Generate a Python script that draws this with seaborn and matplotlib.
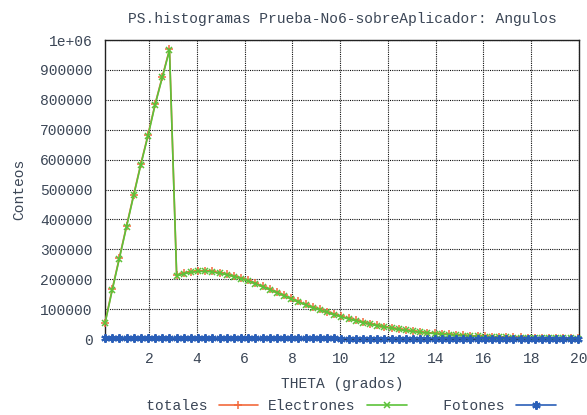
import numpy as np
import pandas as pd
import matplotlib
matplotlib.use("Agg")
import matplotlib.pyplot as plt
import seaborn as sns

# Bin centres of the angular histogram (degrees)
theta = [0.15, 0.45, 0.75, 1.05, 1.35, 1.65, 1.95, 2.25, 2.55, 2.85,
         3.15, 3.45, 3.75, 4.05, 4.35, 4.65, 4.95, 5.25, 5.55, 5.85,
         6.15, 6.45, 6.75, 7.05, 7.35, 7.65, 7.95, 8.25, 8.55, 8.85,
         9.15, 9.45, 9.75, 10.05, 10.35, 10.65, 10.95, 11.25, 11.55, 11.85,
         12.15, 12.45, 12.75, 13.05, 13.35, 13.65, 13.95, 14.25, 14.55, 14.85,
         15.15, 15.45, 15.75, 16.05, 16.35, 16.65, 16.95, 17.25, 17.55, 17.85,
         18.15, 18.45, 18.75, 19.05, 19.35, 19.65, 19.95]

# Counts per bin
electrones = [52000, 163000, 269000, 375000, 480000, 583000, 680000, 784000, 875000, 966000,
              211000, 218000, 223000, 226000, 226000, 224000, 220000, 215000, 209000, 202000,
              194000, 185000, 175000, 165000, 155000, 145000, 134000, 124000, 114000, 105000,
              97000, 89000, 81000, 74000, 67000, 61000, 55000, 49500, 44500, 40000,
              36000, 32000, 28500, 25500, 22500, 20000, 18000, 16000, 14000, 12500,
              11000, 9800, 8700, 7700, 6800, 6000, 5300, 4700, 4200, 3700,
              3300, 2900, 2600, 2300, 2000, 1800, 1600]

fotones = [2900, 2900, 2800, 2800, 2700, 2700, 2600, 2600, 2500, 2500,
           2400, 2400, 2400, 2300, 2300, 2300, 2200, 2200, 2200, 2100,
           2100, 2100, 2000, 2000, 2000, 1900, 1900, 1900, 1900, 1800,
           1800, 1800, 1800, 1700, 1700, 1700, 1700, 1600, 1600, 1600,
           1600, 1500, 1500, 1500, 1500, 1500, 1400, 1400, 1400, 1400,
           1400, 1300, 1300, 1300, 1300, 1300, 1300, 1200, 1200, 1200,
           1200, 1200, 1200, 1100, 1100, 1100, 1100]

totales = [e + f for e, f in zip(electrones, fotones)]

y_ticks = [0, 100000, 200000, 300000, 400000, 500000, 600000, 700000, 800000, 900000, 1000000]
y_tick_labels = ["0", "100000", "200000", "300000", "400000", "500000",
                 "600000", "700000", "800000", "900000", "1e+06"]
x_ticks = [2, 4, 6, 8, 10, 12, 14, 16, 18, 20]

df = pd.DataFrame({"theta": theta, "totales": totales,
                   "Electrones": electrones, "Fotones": fotones})

sns.set_theme(style="white")
plt.rcParams["font.family"] = ["Liberation Mono", "DejaVu Sans Mono"]
txt = "#3b4656"
plt.rcParams["text.color"] = txt

fig = plt.figure(figsize=(5.87, 4.15), dpi=100)
ax = fig.add_axes([0.1789, 0.1831, 0.9864 - 0.1789, 0.9036 - 0.1831])

styles = [
    ("totales", "#f26a3c", "+", 5.5, 1.1, 3),
    ("Electrones", "#5cc23a", "x", 4.5, 1.1, 4),
    ("Fotones", "#2a5fb8", (6, 2, 0), 6, 1.5, 5),
]
for col, color, mk, ms, mew, z in styles:
    sns.lineplot(data=df, x="theta", y=col, ax=ax, color=color, marker=mk,
                 markersize=ms, markeredgewidth=mew, markeredgecolor=color,
                 linewidth=1.2, label=col, clip_on=False, zorder=z)

ax.set_xlim(0.15, 20)
ax.set_ylim(0, 1000000)
ax.set_xticks(x_ticks)
ax.set_xticklabels([str(t) for t in x_ticks])
ax.set_yticks(y_ticks)
ax.set_yticklabels(y_tick_labels)
ax.tick_params(axis="both", labelsize=10.5, colors=txt, length=0)
ax.tick_params(axis="x", pad=9)
ax.tick_params(axis="y", pad=9)

ax.grid(True, color="#111111", linestyle=(0, (1, 1)), linewidth=0.8)
ax.set_axisbelow(True)
for s in ax.spines.values():
    s.set_color("#222222")
    s.set_linewidth(1.0)
    s.set_zorder(2)

ax.set_title("PS.histogramas Prueba-No6-sobreAplicador: Angulos",
             fontsize=10.5, color=txt, pad=12)
ax.set_xlabel("THETA (grados)", fontsize=10.5, color=txt, labelpad=8)
ax.set_ylabel("Conteos", fontsize=10.5, color=txt, labelpad=10)

handles, labels = ax.get_legend_handles_labels()
ax.get_legend().remove()
padded = ["\u2007\u2007\u2007totales", "Electrones", "\u2007\u2007\u2007Fotones"]
fig.legend(handles, padded, loc="center", bbox_to_anchor=(0.575, 0.022),
           ncol=3, frameon=False, markerfirst=False, fontsize=10.5,
           handlelength=2.7, handletextpad=0.8, columnspacing=0.7,
           borderaxespad=0, borderpad=0)

fig.savefig("out.png", dpi=100, facecolor="white")
